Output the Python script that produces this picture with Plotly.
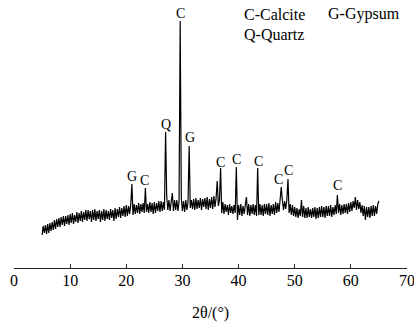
import numpy as np
import plotly.graph_objects as go

# 2-theta grid (degrees), 0.2 deg step from 5 to 65
two_theta = np.round(np.arange(5.0, 65.001, 0.2), 1)

# Intensity (a.u.), 5 points per degree
intensity = [
    33, 42, 35, 43, 34,    # 5
    44, 35, 45, 37, 46,    # 6
    38, 48, 39, 49, 41,    # 7
    50, 41, 51, 43, 52,    # 8
    42, 52, 44, 53, 43,    # 9
    54, 45, 55, 44, 53,    # 10
    46, 56, 45, 55, 47,    # 11
    57, 46, 56, 48, 58,    # 12
    47, 58, 49, 57, 46,    # 13
    58, 48, 59, 47, 57,    # 14
    49, 58, 46, 57, 48,    # 15
    59, 47, 58, 49, 57,    # 16
    48, 59, 50, 58, 47,    # 17
    60, 49, 59, 51, 61,    # 18
    50, 60, 52, 62, 51,    # 19
    63, 52, 62, 54, 64,    # 20
    84, 53, 64, 54, 63,    # 21
    55, 65, 54, 64, 56,    # 22
    65, 55, 80, 56, 64,    # 23
    55, 66, 56, 65, 54,    # 24
    66, 55, 65, 57, 67,    # 25
    56, 67, 57, 66, 58,    # 26
    136, 72, 58, 68, 57,   # 27
    67, 75, 57, 68, 58,    # 28
    68, 57, 67, 247, 70,   # 29
    57, 67, 56, 68, 58,    # 30
    66, 122, 60, 68, 59,   # 31
    69, 58, 70, 59, 68,    # 32
    60, 70, 58, 69, 61,    # 33
    70, 59, 71, 58, 69,    # 34
    60, 71, 59, 72, 61,    # 35
    70, 87, 62, 68, 100,   # 36
    55, 66, 54, 64, 56,    # 37
    63, 53, 64, 55, 62,    # 38
    54, 63, 55, 101, 48,   # 39
    63, 53, 64, 52, 62,    # 40
    54, 63, 71, 53, 64,    # 41
    52, 63, 54, 64, 53,    # 42
    63, 52, 100, 53, 64,   # 43
    53, 63, 52, 64, 54,    # 44
    64, 53, 65, 52, 63,    # 45
    54, 64, 53, 66, 55,    # 46
    65, 56, 66, 81, 68,    # 47
    58, 67, 59, 68, 89,    # 48
    55, 64, 53, 63, 52,    # 49
    61, 51, 60, 50, 59,    # 50
    52, 68, 51, 62, 50,    # 51
    60, 50, 61, 51, 59,    # 52
    50, 60, 51, 61, 49,    # 53
    60, 50, 61, 51, 62,    # 54
    51, 61, 50, 62, 52,    # 55
    62, 52, 63, 51, 61,    # 56
    53, 63, 54, 73, 55,    # 57
    64, 53, 63, 54, 64,    # 58
    55, 64, 54, 65, 56,    # 59
    66, 57, 67, 60, 71,    # 60
    58, 68, 59, 66, 55,    # 61
    63, 52, 62, 48, 61,    # 62
    51, 61, 50, 62, 52,    # 63
    63, 52, 62, 54, 64,    # 64
    67,                    # 65
]

# Peak labels
label_text = ["G", "C", "Q", "C", "G", "C", "C", "C", "C", "C", "C"]
label_x = [21.0, 23.33, 26.99, 29.6, 31.35, 36.82, 39.67, 43.5, 47.2, 48.86, 57.66]
label_y = [92, 88, 144, 254.5, 130.5, 106, 108.7, 106.3, 88.7, 98, 83]

# Phase key
key_text = ["C-Calcite", "G-Gypsum", "Q-Quartz"]
key_x = [40.6, 55.6, 40.6]
key_y = [254, 254, 234]

x_ticks = [0, 10, 20, 30, 40, 50, 60, 70]
x_title = "2θ/(°)"

FONT = "Liberation Serif"

fig = go.Figure()
fig.add_trace(go.Scatter(
    x=two_theta, y=intensity, mode="lines",
    line=dict(color="black", width=1.2), showlegend=False, hoverinfo="skip",
))

for t, x, y in zip(label_text, label_x, label_y):
    fig.add_annotation(x=x, y=y, text=t, showarrow=False, xanchor="center",
                       yanchor="middle", font=dict(family=FONT, size=14, color="black"))

for t, x, y in zip(key_text, key_x, key_y):
    fig.add_annotation(x=x, y=y, text=t, showarrow=False, xanchor="left",
                       yanchor="middle", font=dict(family=FONT, size=16, color="black"))

fig.add_annotation(x=0.5, y=-0.173, xref="paper", yref="paper", text=x_title,
                   showarrow=False, xanchor="center", yanchor="middle",
                   font=dict(family=FONT, size=16, color="black"))

fig.update_layout(
    width=414, height=325,
    margin=dict(l=14, r=7, t=8, b=57, autoexpand=False),
    paper_bgcolor="white", plot_bgcolor="white",
    font=dict(family=FONT, size=16, color="black"),
    hovermode=False,
    xaxis=dict(
        range=[0, 70], tickvals=x_ticks, ticktext=[str(v) for v in x_ticks],
        showgrid=False, zeroline=False, showline=True, linecolor="#222",
        linewidth=1, ticks="inside", ticklen=4, tickwidth=1, tickcolor="#222",
        tickfont=dict(family=FONT, size=16, color="black"),
        automargin=False, ticklabelstandoff=-2, ticklabeloverflow="allow",
    ),
    yaxis=dict(range=[0, 260], visible=False, showgrid=False, zeroline=False),
)

fig.write_html(
    "out.html",
    config={"displayModeBar": False},
    post_script="document.body.style.margin='0';document.body.style.overflow='hidden';",
)
